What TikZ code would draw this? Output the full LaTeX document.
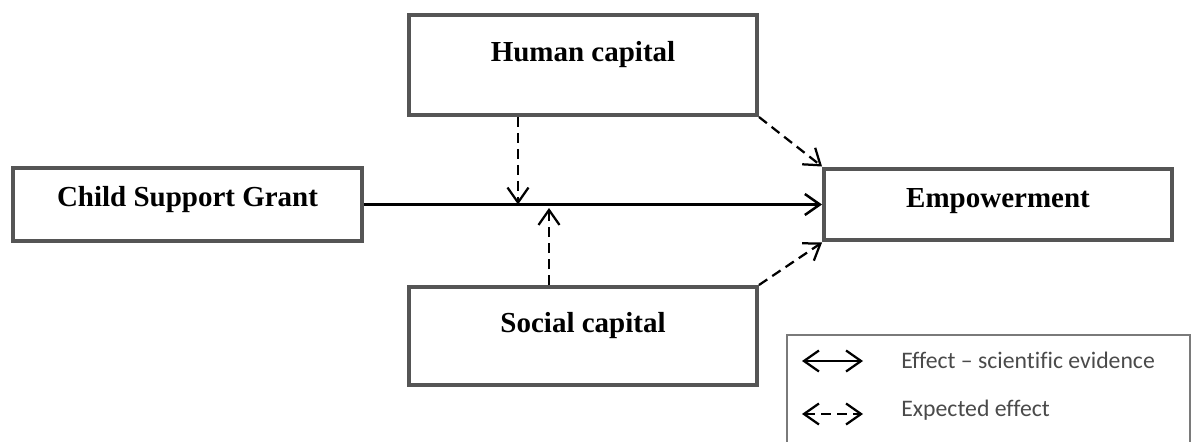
\documentclass[tikz,border=0pt]{standalone}
\usepackage{fontspec}
\setmainfont{Liberation Serif}
\newfontfamily\legendfont[Ligatures=NoCommon]{Carlito}
\usepackage{tikz}
\usetikzlibrary{arrows.meta}
\definecolor{boxgray}{HTML}{555555}
\definecolor{framegray}{HTML}{7A7A7A}
\definecolor{legendink}{HTML}{4A4A4A}

\begin{document}
\begin{tikzpicture}
      [
      x=0.02cm, y=-0.02cm,
      >={Straight Barb[length=0.3cm,width=0.42cm]},
      factor/.style={rectangle,draw=boxgray,line width=0.08cm,inner sep=0pt,minimum width=6.96cm,font=\fontsize{16.5}{18}\selectfont\bfseries},
      effect/.style={line width=0.05cm,->},
      expected/.style={line width=0.045cm,->,dash pattern=on 0.2cm off 0.12cm},
      legendtext/.style={anchor=west,inner sep=0pt,text=legendink,font=\legendfont\fontsize{13.5}{15}\selectfont}
      ]
      \useasboundingbox (0,0) rectangle (1192,442);
      \node (csg) at (187.5,204.5) [factor,minimum width=6.98cm,text height=0.76cm,text depth=0.70cm] {Child Support Grant};
      \node (human) at (583,65) [factor,text height=0.94cm,text depth=1.06cm] {Human capital};
      \node (social) at (583,336) [factor,text height=0.90cm,text depth=1.06cm] {Social capital};
      \node (empower) at (998,204.5) [factor,text height=0.78cm,text depth=0.66cm] {Empowerment};
      \coordinate (hmeet) at (518,204.5);
      \coordinate (smeet) at (549,208);
      \draw [effect] (csg) to (empower);
      \draw [expected] (human.south -| hmeet) to (hmeet);
      \draw [expected] (social.north -| smeet) to (smeet);
      \draw [expected] (human.south east) to (empower.north west);
      \draw [expected] (social.north east) to (empower.south west);
      \draw [framegray,line width=0.04cm] (787,442) -- (787,335) -- (1190,335) -- (1190,442);
      \coordinate (evidL) at (802,361);
      \coordinate (evidR) at (863,361);
      \coordinate (expL) at (802,414);
      \coordinate (expR) at (863,414);
      \draw [effect,<->,line width=0.045cm] (evidL) to (evidR);
      \draw [expected,<->,line width=0.045cm] (expL) to (expR);
      \node (evid) at (901,360) [legendtext] {Effect – scientific evidence};
      \node (exp) at (901,410) [legendtext] {Expected effect};
\end{tikzpicture}
\end{document}
